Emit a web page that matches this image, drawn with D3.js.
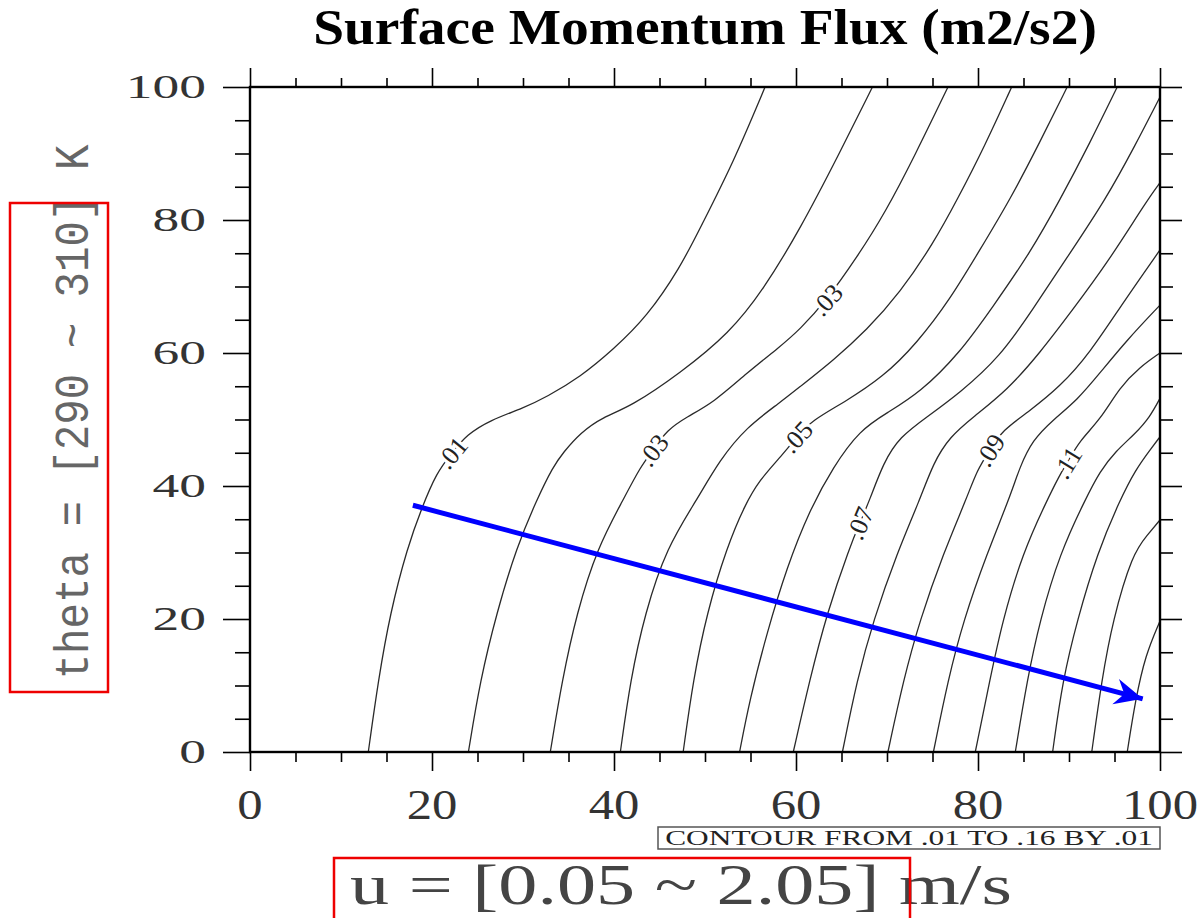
<!DOCTYPE html>
<html><head><meta charset="utf-8">
<script src="https://cdn.jsdelivr.net/npm/d3@7"></script>
<style>body{margin:0;background:#fff}svg{display:block}</style>
</head><body>
<svg id="chart" width="1203" height="918"></svg>
<script>
// ---------- data (u in axis units 0-100, theta in axis units 0-100) ----------
const titleText = "Surface Momentum Flux (m2/s2)";
const xTitle = "u = [0.05 ~ 2.05] m/s";
const yTitle = "theta = [290 ~ 310] K";
const infoText = "CONTOUR FROM .01 TO .16 BY .01";
const xTicks = [0,20,40,60,80,100];
const yTicks = [0,20,40,60,80,100];
const minorTicks = [5,10,15,25,30,35,45,50,55,65,70,75,85,90,95];
const levels = [.01,.02,.03,.04,.05,.06,.07,.08,.09,.10,.11,.12,.13,.14,.15];
const c01 = [[13.0,0],[14.1,10.8],[15.4,20.9],[17.3,30.8],[18.9,36.8],[20.5,42.0],[22.2,45.0],[23.8,47.7],[26.4,49.9],[30.0,51.7],[32.6,53.4],[36.3,56.4],[39.9,60.5],[43.6,65.4],[47.3,72.9],[49.5,78.9],[53.1,88.6],[56.6,100]];
const c02 = [[24.0,0],[25.3,10.8],[27.1,20.9],[29.3,30.8],[31.5,37.9],[33.3,42.9],[34.4,45.0],[36.3,48.0],[38.8,50.4],[41.8,51.9],[47.3,57.0],[52.7,63.0],[56.4,69.5],[60.4,78.5],[64.8,90.1],[68.4,100]];
const c03 = [[33.0,0],[34.3,10.8],[35.9,20.9],[38.2,30.8],[41.0,37.9],[42.9,42.9],[44.3,45.4],[45.8,48.4],[48.0,50.4],[50.9,52.5],[54.6,57.0],[58.2,60.9],[60.4,63.5],[63.4,68.0],[66.7,74.4],[69.8,81.1],[73.1,89.8],[76.7,100]];
const c04 = [[40.7,0],[41.8,10.8],[43.4,20.9],[45.8,30.8],[49.1,37.9],[51.6,43.9],[54.6,48.9],[58.2,52.5],[60.4,54.9],[64.1,58.9],[67.8,63.5],[71.4,69.0],[75.1,76.5],[77.7,83.0],[80.8,91.3],[83.7,100]];
const c05 = [[47.6,0],[48.7,10.8],[50.2,20.9],[52.4,30.8],[54.4,37.2],[56.0,40.9],[58.2,44.2],[60.1,47.4],[61.8,49.9],[65.2,52.5],[69.6,56.4],[73.3,61.5],[76.9,68.0],[80.2,75.5],[83.5,83.0],[86.8,91.7],[89.8,100]];
const c06 = [[53.8,0],[54.9,7.8],[56.8,17.9],[59.0,27.8],[61.5,36.4],[64.1,42.9],[67.0,48.4],[70.0,51.0],[73.6,54.0],[78.0,60.0],[81.6,66.9],[85.7,75.0],[89.0,83.0],[92.3,91.6],[95.3,100]];
const c07 = [[59.7,0],[61.5,10.8],[63.4,20.9],[65.9,30.8],[67.0,34.4],[68.1,37.9],[69.6,43.5],[71.4,47.4],[74.4,50.4],[78.0,54.0],[82.4,59.4],[86.0,66.5],[89.8,74.4],[94.0,83.0],[97.3,91.3],[100,98.5]];
const c08 = [[65.1,0],[66.7,10.8],[68.5,19.8],[71.1,29.9],[73.6,37.9],[75.1,43.5],[76.9,47.4],[79.5,50.4],[83.2,54.4],[86.8,60.0],[90.4,66.5],[94.2,73.5],[98.6,83.0],[100,85.6]];
const c09 = [[70.1,0],[71.8,10.8],[73.6,19.8],[76.2,29.9],[78.8,38.3],[79.9,42.4],[81.3,45.4],[82.7,48.4],[85.4,51.0],[89.0,54.9],[92.3,60.0],[95.9,67.5],[100,75.5]];
const c10 = [[75.1,0],[76.7,10.8],[78.4,19.8],[81.0,29.9],[83.5,38.3],[84.6,42.9],[86.0,46.9],[88.2,49.9],[90.9,52.9],[93.4,57.0],[96.4,62.0],[100,67.2]];
const c11 = [[79.7,0],[81.3,10.8],[82.7,19.8],[84.9,29.9],[87.6,37.9],[89.0,41.7],[89.8,43.5],[91.2,46.9],[93.4,49.9],[95.6,54.9],[97.8,57.9],[100,60.0]];
const c12 = [[84.1,0],[85.4,10.8],[86.8,19.8],[89.0,29.9],[91.8,38.0],[93.4,42.2],[95.1,45.2],[97.3,47.9],[98.9,50.4],[100,53.2]];
const c13 = [[88.2,0],[89.3,10.8],[90.9,19.8],[93.1,29.9],[95.6,37.9],[97.3,42.4],[98.9,45.4],[100,47.4]];
const c14 = [[92.5,0],[93.6,10.8],[94.8,19.8],[97.0,29.9],[98.6,32.6],[100,34.9]];
const c15 = [[96.4,0],[97.3,7.8],[98.4,14.6],[100,19.7]];
const contourPts = [c01,c02,c03,c04,c05,c06,c07,c08,c09,c10,c11,c12,c13,c14,c15];
const labelLevels = [.01,.03,.03,.05,.07,.09,.11];
const labelU =     [22.2,44.3,63.4,60.1,67.0,81.3,89.8];
const labelTheta = [45.0,45.4,68.0,47.4,34.4,45.4,43.5];
const arrowU = [17.9, 98.1];
const arrowTheta = [37.1, 8.0];

// ---------- layout ----------
const svg = d3.select("#chart");
const L = 250, R = 1160, T = 87, B = 752;
const x = d3.scaleLinear().domain([0,100]).range([L,R]);
const y = d3.scaleLinear().domain([0,100]).range([B,T]);
const serif = "'Liberation Serif','DejaVu Serif',serif";

// contours
const line = d3.line().x(d=>x(d[0])).y(d=>y(d[1])).curve(d3.curveBasis);
const gC = svg.append("g");
contourPts.forEach((pts,i)=>{
  gC.append("path").attr("d", line(pts)).attr("fill","none")
    .attr("stroke","#2a2a2a").attr("stroke-width",1.3);
});

// contour labels
function fmt(v){ return "." + String(Math.round(v*100)).padStart(2,"0"); }
labelLevels.forEach((lv,i)=>{
  const pts = contourPts[levels.indexOf(lv)].map(d=>[x(d[0]),y(d[1])]);
  const px = x(labelU[i]), py = y(labelTheta[i]);
  let best = 1e9, ang = -60;
  for (let k=0;k<pts.length-1;k++){
    const mx=(pts[k][0]+pts[k+1][0])/2, my=(pts[k][1]+pts[k+1][1])/2;
    const d=(mx-px)**2+(my-py)**2;
    if(d<best){best=d; ang=Math.atan2(pts[k+1][1]-pts[k][1], pts[k+1][0]-pts[k][0])*180/Math.PI;}
  }
  svg.append("text").text(fmt(lv))
    .attr("transform",`translate(${px},${py}) rotate(${ang})`)
    .attr("text-anchor","middle").attr("dy","0.35em")
    .attr("font-family",serif).attr("font-size",26)
    .attr("fill","#222").attr("stroke","#fff").attr("stroke-width",6)
    .attr("paint-order","stroke");
});

// axes ticks
function ticks(gen, major, minor, majLen, minLen, g){
  g.call(gen.tickValues(major).tickSize(majLen).tickSizeOuter(0).tickFormat(""));
  g.append("g").call(gen.tickValues(minor).tickSize(minLen).tickFormat(""));
  g.selectAll(".domain").remove();
  g.selectAll("line").attr("stroke","#000").attr("stroke-width",1.6);
}
const xb = svg.append("g").attr("transform",`translate(0,${B})`);
ticks(d3.axisBottom(x), xTicks, minorTicks, 19, 10, xb);
const xt = svg.append("g").attr("transform",`translate(0,${T})`);
ticks(d3.axisTop(x), xTicks, minorTicks, 19, 9, xt);
const yl = svg.append("g").attr("transform",`translate(${L},0)`);
ticks(d3.axisLeft(y), yTicks, minorTicks, 27, 15, yl);
const yr = svg.append("g").attr("transform",`translate(${R},0)`);
ticks(d3.axisRight(y), yTicks, minorTicks, 22, 13, yr);

// frame
svg.append("rect").attr("x",L).attr("y",T).attr("width",R-L).attr("height",B-T)
  .attr("fill","none").attr("stroke","#000").attr("stroke-width",2.4);

// tick labels
function fitText(sel, w){ const bw = sel.node().getBBox().width; return w/bw; }
yTicks.forEach(v=>{
  const t = svg.append("text").text(v).attr("font-family",serif).attr("font-size",33)
    .attr("text-anchor","end").attr("fill","#333");
  t.attr("transform",`translate(206,${y(v)+11}) scale(1.62,1)`);
});
xTicks.forEach(v=>{
  const t = svg.append("text").text(v).attr("font-family",serif).attr("font-size",43)
    .attr("text-anchor","middle").attr("fill","#333");
  t.attr("transform",`translate(${x(v)},${819}) scale(1.18,1)`);
});

// title
const tt = svg.append("text").text(titleText).attr("font-family",serif).attr("font-weight","bold")
  .attr("font-size",50).attr("text-anchor","middle").attr("fill","#000");
tt.attr("transform",`translate(705,44) scale(${fitText(tt,784)},1)`);

// contour info box
const it = svg.append("text").text(infoText).attr("font-family",serif).attr("font-size",20)
  .attr("text-anchor","middle").attr("fill","#222");
it.attr("transform",`translate(909,845) scale(${fitText(it,488)},1)`);
svg.append("rect").attr("x",658).attr("y",827).attr("width",502).attr("height",22)
  .attr("fill","none").attr("stroke","#555").attr("stroke-width",1.5);

// axis titles
const xtt = svg.append("text").text(xTitle).attr("font-family",serif).attr("font-size",56)
  .attr("text-anchor","middle").attr("fill","#444");
xtt.attr("transform",`translate(681,904) scale(${fitText(xtt,662)},1)`);
svg.append("rect").attr("x",334).attr("y",858).attr("width",576).attr("height",80)
  .attr("fill","none").attr("stroke","#e00").attr("stroke-width",2.5);

const ytt = svg.append("text").text(yTitle).attr("font-family","'Liberation Mono','DejaVu Sans Mono',monospace")
  .attr("font-size",48).attr("text-anchor","middle").attr("fill","#666");
ytt.attr("transform",`translate(88,412) rotate(-90) scale(${fitText(ytt,535)},1)`);
svg.append("rect").attr("x",10).attr("y",203).attr("width",98).attr("height",489)
  .attr("fill","none").attr("stroke","#e00").attr("stroke-width",2.5);

// blue arrow
svg.append("defs").append("marker").attr("id","ah").attr("markerUnits","userSpaceOnUse")
  .attr("markerWidth",40).attr("markerHeight",40).attr("refX",0).attr("refY",0)
  .attr("viewBox","-32 -20 40 40").attr("orient","auto")
  .append("path").attr("d","M0,0 L-28,-13 L-19,0 L-28,13 Z").attr("fill","#0000ff");
svg.append("line").attr("x1",x(arrowU[0])).attr("y1",y(arrowTheta[0]))
  .attr("x2",x(arrowU[1])).attr("y2",y(arrowTheta[1]))
  .attr("stroke","#0000ff").attr("stroke-width",5).attr("marker-end","url(#ah)");
</script>
</body></html>
